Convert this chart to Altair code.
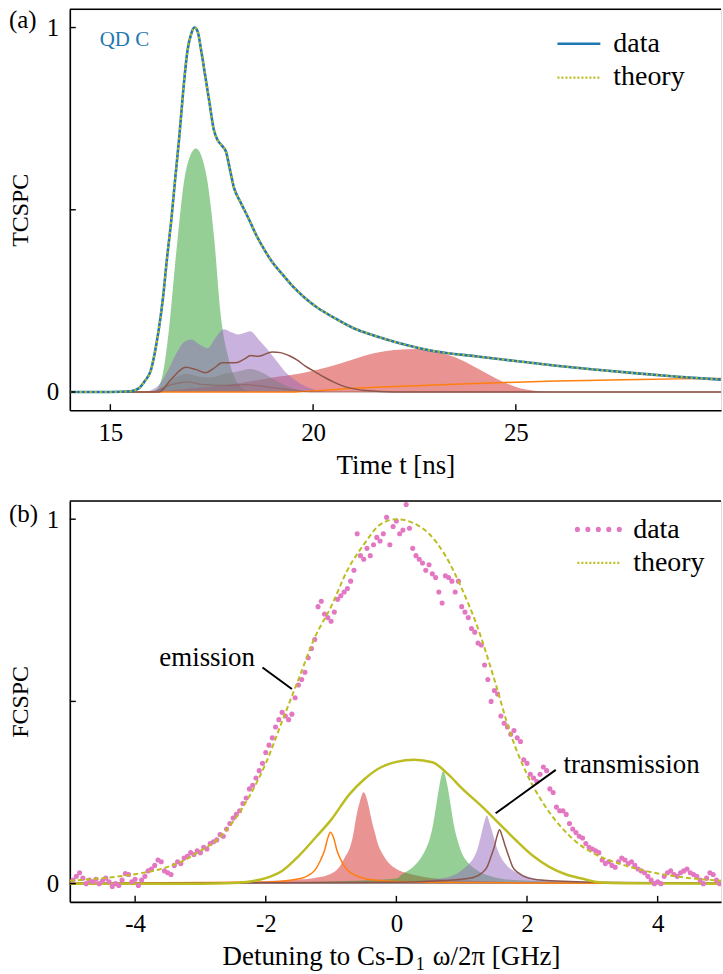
import altair as alt
import pandas as pd

FONT = "Liberation Serif"
W, H = 653, 402

# ---------------- panel (a): time domain ----------------
t_meas = [14.0, 15.0, 15.5, 15.7, 15.85, 16.0, 16.1, 16.2, 16.3, 16.4, 16.5, 16.6, 16.7, 16.8,
          16.9, 17.0, 17.07, 17.15, 17.25, 17.35, 17.45, 17.55, 17.65, 17.75, 17.85, 17.95,
          18.05, 18.2, 18.4, 18.6, 18.8, 19.0, 19.25, 19.5, 19.8, 20.1, 20.5, 21.0, 21.5,
          22.0, 22.6, 23.0, 24.0, 25.0, 26.0, 27.0, 28.0, 29.0, 30.06]
tcspc_data = [0.0, 0.0, 0.002, 0.01, 0.03, 0.06, 0.11, 0.176, 0.26, 0.37, 0.468, 0.586, 0.70, 0.83,
              0.935, 0.985, 1.0, 0.99, 0.93, 0.86, 0.79, 0.72, 0.69, 0.676, 0.66, 0.61,
              0.56, 0.523, 0.478, 0.43, 0.39, 0.355, 0.322, 0.29, 0.258, 0.232, 0.205, 0.175, 0.155,
              0.138, 0.121, 0.112, 0.098, 0.085, 0.072, 0.061, 0.051, 0.042, 0.034]
tcspc_theory = [0.0, 0.0, 0.002, 0.01, 0.03, 0.06, 0.11, 0.176, 0.26, 0.37, 0.468, 0.586, 0.70, 0.83,
                0.935, 0.985, 1.0, 0.99, 0.93, 0.86, 0.79, 0.72, 0.69, 0.676, 0.66, 0.61,
                0.56, 0.523, 0.478, 0.43, 0.39, 0.355, 0.322, 0.29, 0.258, 0.232, 0.205, 0.175, 0.155,
                0.138, 0.121, 0.112, 0.098, 0.085, 0.072, 0.061, 0.051, 0.042, 0.034]

t_green = [14.0, 15.8, 16.0, 16.12, 16.29, 16.45, 16.62, 16.86, 17.11, 17.35, 17.56, 17.72, 17.93, 18.17, 18.4, 18.7, 30.06]
v_green = [0.0, 0.0, 0.002, 0.005, 0.048, 0.176, 0.377, 0.605, 0.668, 0.605, 0.422, 0.213, 0.085, 0.02, 0.004, 0.0, 0.0]

t_red = [14.0, 15.8, 16.2, 16.6, 17.0, 17.5, 18.0, 18.5, 19.0, 19.65, 20.0, 20.46, 21.0, 21.53, 22.0, 22.6, 23.0, 23.5, 24.0, 24.5, 25.0, 25.5, 26.0, 30.06]
v_red = [0.0, 0.0, 0.002, 0.006, 0.01, 0.015, 0.021, 0.03, 0.04, 0.05, 0.058, 0.071, 0.09, 0.107, 0.115, 0.118, 0.112, 0.095, 0.068, 0.038, 0.014, 0.003, 0.0, 0.0]

t_purple = [14.0, 15.8, 16.0, 16.2, 16.4, 16.6, 16.8, 17.0, 17.2, 17.4, 17.6, 17.8, 18.0, 18.15, 18.3, 18.45, 18.65, 18.85, 19.1, 19.3, 19.55, 19.8, 20.1, 20.4, 30.06]
v_purple = [0.0, 0.0, 0.005, 0.02, 0.055, 0.1, 0.135, 0.144, 0.13, 0.12, 0.15, 0.172, 0.163, 0.158, 0.162, 0.167, 0.145, 0.12, 0.085, 0.057, 0.033, 0.016, 0.005, 0.0, 0.0]

t_gray = [14.0, 16.0, 16.3, 16.6, 16.9, 17.2, 17.5, 17.8, 18.1, 18.45, 18.8, 19.1, 19.5, 20.0, 30.06]
v_gray = [0.0, 0.0, 0.015, 0.04, 0.05, 0.042, 0.04, 0.05, 0.055, 0.063, 0.05, 0.03, 0.01, 0.0, 0.0]

t_orange = [14.0, 19.5, 20.0, 21.0, 22.0, 23.0, 24.0, 25.0, 26.0, 27.0, 28.0, 29.0, 30.06]
v_orange = [0.0, 0.0, 0.003, 0.01, 0.015, 0.019, 0.023, 0.027, 0.03, 0.032, 0.034, 0.036, 0.037]

t_brown = [14.0, 15.8, 16.2, 16.5, 16.86, 17.1, 17.35, 17.55, 17.76, 18.09, 18.3, 18.46, 18.65, 18.99, 19.2, 19.4, 19.6, 19.81, 20.05, 20.3, 20.55, 20.8, 21.3, 22.0, 30.06]
v_brown = [0.0, 0.0, 0.0, 0.035, 0.068, 0.062, 0.053, 0.065, 0.08, 0.08, 0.09, 0.1, 0.098, 0.11, 0.108, 0.1, 0.088, 0.071, 0.055, 0.039, 0.025, 0.014, 0.004, 0.0, 0.0]

t_brown2 = [14.0, 16.0, 16.5, 16.9, 17.3, 17.8, 18.3, 18.8, 19.5, 20.0, 30.06]
v_brown2 = [0.0, 0.0, 0.02, 0.028, 0.02, 0.018, 0.02, 0.015, 0.005, 0.0, 0.0]

# ---------------- panel (b): frequency domain ----------------
fx = [-4.95, -4.90, -4.85, -4.80, -4.75, -4.70, -4.65, -4.60, -4.55, -4.50,
      -4.45, -4.40, -4.35, -4.30, -4.25, -4.20, -4.15, -4.10, -4.05, -4.00,
      -3.95, -3.90, -3.85, -3.80, -3.75, -3.70, -3.65, -3.60, -3.55, -3.50,
      -3.45, -3.40, -3.35, -3.30, -3.25, -3.20, -3.15, -3.10, -3.05, -3.00,
      -2.95, -2.90, -2.85, -2.80, -2.75, -2.70, -2.65, -2.60, -2.55, -2.50,
      -2.45, -2.40, -2.35, -2.30, -2.25, -2.20, -2.15, -2.10, -2.05, -2.00,
      -1.95, -1.90, -1.85, -1.80, -1.75, -1.70, -1.65, -1.60, -1.55, -1.50,
      -1.45, -1.40, -1.35, -1.30, -1.25, -1.20, -1.15, -1.10, -1.05, -1.00,
      -0.95, -0.90, -0.85, -0.80, -0.75, -0.70, -0.65, -0.60, -0.55, -0.50,
      -0.45, -0.40, -0.35, -0.30, -0.25, -0.20, -0.15, -0.10, -0.05, 0.00,
      0.05, 0.10, 0.15, 0.20, 0.25, 0.30, 0.35, 0.40, 0.45, 0.50,
      0.55, 0.60, 0.65, 0.70, 0.75, 0.80, 0.85, 0.90, 0.95, 1.00,
      1.05, 1.10, 1.15, 1.20, 1.25, 1.30, 1.35, 1.40, 1.45, 1.50,
      1.55, 1.60, 1.65, 1.70, 1.75, 1.80, 1.85, 1.90, 1.95, 2.00,
      2.05, 2.10, 2.15, 2.20, 2.25, 2.30, 2.35, 2.40, 2.45, 2.50,
      2.55, 2.60, 2.65, 2.70, 2.75, 2.80, 2.85, 2.90, 2.95, 3.00,
      3.05, 3.10, 3.15, 3.20, 3.25, 3.30, 3.35, 3.40, 3.45, 3.50,
      3.55, 3.60, 3.65, 3.70, 3.75, 3.80, 3.85, 3.90, 3.95, 4.00,
      4.05, 4.10, 4.15, 4.20, 4.25, 4.30, 4.35, 4.40, 4.45, 4.50,
      4.55, 4.60, 4.65, 4.70, 4.75, 4.80, 4.85, 4.90, 4.95]
fcspc_data = [0.01, 0.02, 0.03, 0.015, 0.0, 0.01, 0.005, 0.012, 0.0, 0.008,
              0.015, 0.005, -0.008, 0.0, -0.005, 0.01, 0.028, 0.025, 0.005, 0.012,
              -0.005, 0.01, 0.02, 0.035, 0.04, 0.05, 0.065, 0.06, 0.035, 0.03,
              0.025, 0.05, 0.06, 0.055, 0.07, 0.075, 0.085, 0.08, 0.09, 0.085,
              0.1, 0.095, 0.11, 0.115, 0.12, 0.135, 0.13, 0.15, 0.165, 0.18,
              0.19, 0.2, 0.22, 0.235, 0.26, 0.27, 0.29, 0.31, 0.33, 0.36,
              0.38, 0.4, 0.43, 0.45, 0.47, 0.46, 0.45, 0.465, 0.51, 0.545,
              0.56, 0.58, 0.62, 0.645, 0.67, 0.76, 0.775, 0.74, 0.73, 0.72,
              0.745, 0.78, 0.79, 0.8, 0.81, 0.83, 0.86, 0.96, 0.9, 0.89,
              0.92, 0.9, 0.93, 0.95, 0.94, 0.96, 1.005, 0.93, 0.98, 0.995,
              0.96, 0.97, 1.04, 0.975, 0.92, 0.9, 0.89, 0.88, 0.86, 0.875,
              0.85, 0.84, 0.8, 0.77, 0.845, 0.84, 0.83, 0.8, 0.83, 0.76,
              0.745, 0.73, 0.7, 0.69, 0.66, 0.655, 0.6, 0.56, 0.5, 0.53,
              0.52, 0.46, 0.44, 0.43, 0.41, 0.42, 0.4, 0.39, 0.34, 0.33,
              0.3, 0.29, 0.28, 0.3, 0.32, 0.31, 0.26, 0.25, 0.21, 0.2,
              0.2, 0.19, 0.165, 0.15, 0.14, 0.13, 0.125, 0.11, 0.1, 0.095,
              0.09, 0.085, 0.065, 0.055, 0.06, 0.05, 0.045, 0.06, 0.07, 0.065,
              0.055, 0.06, 0.05, 0.04, 0.035, 0.03, 0.02, 0.01, 0.0, 0.005,
              0.0, 0.02, 0.03, 0.035, 0.025, 0.02, 0.03, 0.035, 0.04, 0.03,
              0.025, 0.02, 0.01, 0.0, 0.015, 0.03, 0.025, 0.01, 0.0]

d_theory = [-5.0, -4.5, -4.0, -3.5, -3.25, -3.0, -2.75, -2.5, -2.25, -2.0, -1.75, -1.5, -1.25, -1.0, -0.75,
            -0.5, -0.25, 0.0, 0.25, 0.5, 0.75, 1.0, 1.25, 1.5, 1.75, 2.0, 2.25, 2.5, 2.75, 3.0, 3.5, 4.0, 4.5, 5.0]
v_theory = [0.008, 0.015, 0.026, 0.046, 0.064, 0.09, 0.12, 0.17, 0.24, 0.33, 0.445, 0.56, 0.675, 0.76, 0.86,
            0.93, 0.985, 1.0, 0.99, 0.96, 0.9, 0.81, 0.7, 0.56, 0.41, 0.3, 0.22, 0.16, 0.115, 0.085, 0.05, 0.028, 0.015, 0.008]

d_red = [-5.0, -3.0, -2.0, -1.5, -1.23, -1.0, -0.87, -0.78, -0.72, -0.66, -0.615, -0.56, -0.5, -0.44, -0.39, -0.33, -0.285, -0.2, -0.107, 0.0, 0.2, 0.5, 1.0, 2.0, 5.0]
v_red_b = [0.002, 0.004, 0.007, 0.011, 0.016, 0.027, 0.046, 0.075, 0.095, 0.135, 0.183, 0.225, 0.251, 0.225, 0.183, 0.14, 0.11, 0.078, 0.055, 0.04, 0.027, 0.016, 0.009, 0.004, 0.001]

d_green = [-5.0, -2.0, -1.0, 0.0, 0.1, 0.25, 0.35, 0.45, 0.504, 0.56, 0.606, 0.66, 0.718, 0.78, 0.835, 0.88, 0.936, 1.0, 1.11, 1.25, 1.4, 1.8, 3.0, 5.0]
v_green_b = [0.001, 0.003, 0.006, 0.014, 0.027, 0.045, 0.064, 0.095, 0.119, 0.16, 0.21, 0.27, 0.309, 0.27, 0.21, 0.16, 0.119, 0.085, 0.055, 0.035, 0.023, 0.01, 0.004, 0.001]

d_purple = [-5.0, 0.0, 0.6, 0.9, 1.0, 1.1, 1.19, 1.25, 1.29, 1.34, 1.385, 1.43, 1.49, 1.54, 1.6, 1.7, 1.83, 2.0, 2.3, 3.0, 5.0]
v_purple_b = [0.0, 0.004, 0.012, 0.025, 0.037, 0.052, 0.073, 0.1, 0.128, 0.165, 0.187, 0.165, 0.128, 0.098, 0.073, 0.048, 0.032, 0.02, 0.009, 0.004, 0.001]

d_orange = [-5.0, -2.0, -1.6, -1.4, -1.23, -1.16, -1.1, -1.05, -1.01, -0.96, -0.91, -0.85, -0.79, -0.7, -0.565, -0.3, 0.3, 2.0, 5.0]
v_orange_b = [0.001, 0.004, 0.01, 0.018, 0.041, 0.065, 0.091, 0.125, 0.141, 0.125, 0.091, 0.065, 0.046, 0.03, 0.018, 0.009, 0.004, 0.002, 0.001]

d_brown = [-5.0, 0.0, 1.0, 1.2, 1.3, 1.39, 1.45, 1.5, 1.54, 1.58, 1.62, 1.67, 1.72, 1.78, 1.88, 1.98, 2.2, 3.0, 5.0]
v_brown_b = [0.001, 0.004, 0.012, 0.018, 0.028, 0.046, 0.075, 0.101, 0.13, 0.148, 0.13, 0.101, 0.075, 0.046, 0.028, 0.018, 0.01, 0.004, 0.001]

d_envelope = [-5.0, -3.0, -2.5, -2.24, -2.0, -1.74, -1.5, -1.23, -1.0, -0.72, -0.5, -0.25, 0.0, 0.275, 0.55, 0.81, 1.0, 1.32, 1.6, 1.83, 2.1, 2.34, 2.6, 2.84, 3.1, 3.5, 5.0]
v_envelope = [0.0, 0.0, 0.002, 0.006, 0.015, 0.036, 0.075, 0.128, 0.175, 0.245, 0.285, 0.318, 0.334, 0.34, 0.333, 0.297, 0.262, 0.21, 0.16, 0.119, 0.075, 0.046, 0.025, 0.014, 0.004, 0.001, 0.0]

# annotation pointers (data coordinates)
ann_text = ["emission", "transmission"]
ann_tx = [-3.63, 2.56]
ann_ty = [0.597, 0.303]
ann_x1 = [-2.05, 2.44]
ann_y1 = [0.593, 0.312]
ann_x2 = [-1.60, 1.52]
ann_y2 = [0.534, 0.193]

BLUE, OLIVE, GREEN, RED, PURPLE = "#1f77b4", "#bcbd22", "#2ca02c", "#d62728", "#9467bd"
ORANGE, BROWN, PINK, GRAY = "#ff7f0e", "#8c564b", "#e377c2", "#7f7f7f"

LABEL_EXPR = "datum.value < 0 ? '-' + toString(-datum.value) : toString(datum.value)"


def df(x, y):
    return pd.DataFrame({"x": x, "y": y})


one = pd.DataFrame({"k": [0]})


def make_axes(xdom, xticks, xtitle, ytitle):
    xs = alt.Scale(domain=xdom, nice=False, zero=False)
    ys = alt.Scale(domain=[-0.05, 1.05], nice=False, zero=False)
    xaxis = alt.Axis(values=xticks, title=xtitle, labelExpr=LABEL_EXPR)
    yaxis = alt.Axis(values=[0, 1], title=ytitle, labelExpr=LABEL_EXPR)
    return xs, ys, xaxis, yaxis


def frame(xs, ys, xaxis, yaxis, xticks):
    top = alt.Chart(one).mark_rule(color="black", strokeWidth=1.6).encode(
        x=alt.value(0), x2=alt.value(W), y=alt.value(0))
    xt = alt.Chart(pd.DataFrame({"x": xticks})).mark_rule(color="black", strokeWidth=1.4).encode(
        x=alt.X("x:Q", scale=xs, axis=xaxis), y=alt.value(H), y2=alt.value(H - 6))
    yt = alt.Chart(pd.DataFrame({"y": [0, 0.5, 1]})).mark_rule(color="black", strokeWidth=1.4).encode(
        y=alt.Y("y:Q", scale=ys, axis=yaxis), x=alt.value(0), x2=alt.value(6))
    return [top, xt, yt]


def text_px(label, x, y, size, color="black", baseline="alphabetic", align="left"):
    return alt.Chart(pd.DataFrame({"label": [label]})).mark_text(
        font=FONT, fontSize=size, color=color, align=align, baseline=baseline).encode(
        x=alt.value(x), y=alt.value(y), text="label:N")


area_kw = dict(opacity=0.5, interpolate="monotone", clip=True)
line_kw = dict(interpolate="monotone", clip=True)

# ---- top panel ----
xs, ys, xa, ya = make_axes([14, 30.06], [15, 20, 25], "Time t [ns]", "TCSPC")


def enc(chart):
    return chart.encode(x=alt.X("x:Q", scale=xs, axis=xa), y=alt.Y("y:Q", scale=ys, axis=ya))


top_layers = [
    enc(alt.Chart(df(t_green, v_green)).mark_area(color=GREEN, **area_kw)),
    enc(alt.Chart(df(t_red, v_red)).mark_area(color=RED, **area_kw)),
    enc(alt.Chart(df(t_purple, v_purple)).mark_area(color=PURPLE, **area_kw)),
    enc(alt.Chart(df(t_gray, v_gray)).mark_area(color=GRAY, **area_kw)),
    enc(alt.Chart(df(t_orange, v_orange)).mark_line(color=ORANGE, strokeWidth=1.5, **line_kw)),
    enc(alt.Chart(df(t_brown2, v_brown2)).mark_line(color=BROWN, strokeWidth=1.3, opacity=0.5, **line_kw)),
    enc(alt.Chart(df(t_brown, v_brown)).mark_line(color=BROWN, strokeWidth=1.5, **line_kw)),
    enc(alt.Chart(df(t_meas, tcspc_data)).mark_line(color=BLUE, strokeWidth=2.6, **line_kw)),
    enc(alt.Chart(df(t_meas, tcspc_theory)).mark_line(color=OLIVE, strokeWidth=2.2, strokeDash=[2, 3], **line_kw)),
] + frame(xs, ys, xa, ya, [15, 20, 25]) + [
    text_px("(a)", -61, 11, 25, baseline="middle"),
    text_px("QD C", 30, 37, 21, color=BLUE),
    alt.Chart(one).mark_rule(color=BLUE, strokeWidth=2.6).encode(x=alt.value(489), x2=alt.value(532), y=alt.value(34.5)),
    alt.Chart(one).mark_rule(color=OLIVE, strokeWidth=2.2, strokeDash=[2, 2]).encode(x=alt.value(489), x2=alt.value(531), y=alt.value(68.5)),
    text_px("data", 545, 43, 28),
    text_px("theory", 545, 75.5, 28),
]
top = alt.layer(*top_layers).properties(width=W, height=H)

# ---- bottom panel ----
xs2, ys2, xa2, ya2 = make_axes([-5, 4.97], [-4, -2, 0, 2, 4], None, "FCSPC")


def enc2(chart):
    return chart.encode(x=alt.X("x:Q", scale=xs2, axis=xa2), y=alt.Y("y:Q", scale=ys2, axis=ya2))


ann = pd.DataFrame({"label": ann_text, "tx": ann_tx, "ty": ann_ty, "x": ann_x1, "y": ann_y1, "x2": ann_x2, "y2": ann_y2})
bot_layers = [
    enc2(alt.Chart(df(d_red, v_red_b)).mark_area(color=RED, **area_kw)),
    enc2(alt.Chart(df(d_green, v_green_b)).mark_area(color=GREEN, **area_kw)),
    enc2(alt.Chart(df(d_purple, v_purple_b)).mark_area(color=PURPLE, **area_kw)),
    enc2(alt.Chart(df(d_orange, v_orange_b)).mark_line(color=ORANGE, strokeWidth=1.5, **line_kw)),
    enc2(alt.Chart(df(d_brown, v_brown_b)).mark_line(color=BROWN, strokeWidth=1.5, **line_kw)),
    enc2(alt.Chart(df(d_envelope, v_envelope)).mark_line(color=OLIVE, strokeWidth=2.5, **line_kw)),
    enc2(alt.Chart(df(fx, fcspc_data)).mark_circle(color=PINK, size=26, opacity=1, clip=True)),
    enc2(alt.Chart(df(d_theory, v_theory)).mark_line(color=OLIVE, strokeWidth=2, strokeDash=[5, 3], **line_kw)),
    alt.Chart(ann).mark_rule(color="black", strokeWidth=2).encode(
        x=alt.X("x:Q", scale=xs2, axis=xa2), y=alt.Y("y:Q", scale=ys2, axis=ya2), x2="x2:Q", y2="y2:Q"),
    alt.Chart(ann).mark_text(font=FONT, fontSize=27, color="black", align="left", baseline="alphabetic").encode(
        x=alt.X("tx:Q", scale=xs2, axis=xa2), y=alt.Y("ty:Q", scale=ys2, axis=ya2), text="label:N"),
] + frame(xs2, ys2, xa2, ya2, [-4, -2, 0, 2, 4]) + [
    text_px("(b)", -61, 13, 25, baseline="middle"),
] + [
    alt.Chart(one).mark_circle(color=PINK, size=26, opacity=1).encode(x=alt.value(px), y=alt.value(28.5))
    for px in [509, 519.5, 530, 540.5, 551]
] + [
    alt.Chart(one).mark_rule(color=OLIVE, strokeWidth=2.2, strokeDash=[2, 2]).encode(x=alt.value(509), x2=alt.value(551), y=alt.value(62)),
    text_px("data", 565, 37, 28),
    text_px("theory", 565, 70, 28),
    # x-axis title with a real subscript
    text_px("Detuning to Cs-D", 345, H + 63, 27, align="right"),
    text_px("1", 347, H + 68, 18),
    text_px("\u03c9/2\u03c0 [GHz]", 364, H + 63, 27),
]
bottom = alt.layer(*bot_layers).properties(width=W, height=H)

chart = alt.vconcat(top, bottom, spacing=20).configure_view(stroke=None).configure(
    font=FONT).configure_axis(
    tickSize=0, labelFont=FONT, labelFontSize=25, labelColor="black",
    titleFont=FONT, titleFontSize=27, titleFontWeight="normal", titleColor="black",
    grid=False, domainColor="black", domainWidth=1.6, labelFlush=False
).configure_axisX(titlePadding=7, labelPadding=10).configure_axisY(
    titlePadding=14, labelPadding=11, titleFontSize=24
).properties(padding={"left": 8, "top": 6, "right": 0, "bottom": 0})

chart.save("out.html", embed_options={"renderer": "svg", "actions": False})
